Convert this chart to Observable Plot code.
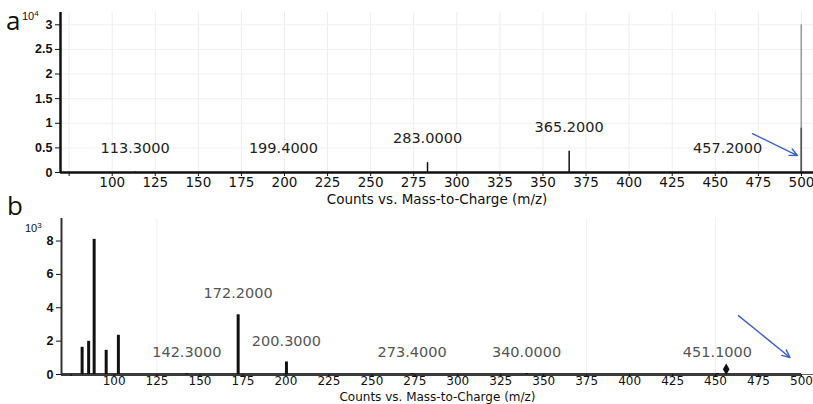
<!DOCTYPE html>
<html>
<head>
<meta charset="utf-8">
<script src="https://cdn.jsdelivr.net/npm/d3@7"></script>
<script src="https://cdn.jsdelivr.net/npm/@observablehq/plot@0.6"></script>
<style>
  body { margin: 0; background: #fff; }
  #wrap { position: relative; width: 813px; height: 404px; overflow: hidden; font-family: "DejaVu Sans", sans-serif; }
  .panel { position: absolute; left: 0; }
  .tag { position: absolute; font-family: "Open Sans", sans-serif; color: #111; line-height: 1; }
  .exp { position: absolute; font-family: "Liberation Sans", sans-serif; font-size: 11px; color: #111; line-height: 1; }
  .exp sup { font-size: 8px; vertical-align: 4px; }
</style>
</head>
<body>
<div id="wrap">
  <div id="pa" class="panel" style="top:0"></div>
  <div id="pb" class="panel" style="top:202px"></div>
  <div class="tag" style="left:6px;top:7px;font-size:26px">a</div>
  <div class="exp" style="left:22px;top:10px">10<sup>4</sup></div>
  <div class="tag" style="left:7px;top:192px;font-size:26px">b</div>
  <div class="exp" style="left:25px;top:222px">10<sup>3</sup></div>
</div>
<script>
// m/z axis ticks shared by both spectra
const xTicks = d3.range(75, 501, 25);

// Spectrum a — counts in units of 10^4
const mzA = [113.3, 199.4, 283.0, 365.2, 457.2];
const countsA = [0.01, 0.01, 0.20, 0.43, 0.01];
const edgeMzA = [499.9];
const edgeProfileA = [3.0];
const edgeCentroidA = [0.9];
const yTicksA = [0, 0.5, 1, 1.5, 2, 2.5, 3];
const arrowA = [[471.6, 0.79, 497.7, 0.345]];

// Spectrum b — counts in units of 10^3
const mzB = [81.4, 85.2, 88.4, 95.4, 102.5, 142.3, 172.2, 200.3, 273.4, 340.0, 451.1];
const countsB = [1.63, 1.99, 8.1, 1.45, 2.35, 0.06, 3.58, 0.75, 0.06, 0.06, 0.06];
const labeledB = [142.3, 172.2, 200.3, 273.4, 340.0, 451.1];
const precursorMzB = [456.2];
const precursorYB = [0.32];
const yTicksB = [0, 2, 4, 6, 8];
const arrowB = [[463.3, 3.53, 493.3, 1.02]];

const fmt = d3.format(".4f");
const axisTitle = "Counts vs. Mass-to-Charge (m/z)";
const blue = "#3d62c6";

const peaksA = mzA.map((mz, i) => ({mz, c: countsA[i]}));
const peaksB = mzB.map((mz, i) => ({mz, c: countsB[i]}));
const labelsB = peaksB.filter(d => labeledB.includes(d.mz));
const precursor = precursorMzB.map((mz, i) => ({mz, c: precursorYB[i]}));

const baseStyle = {fontFamily: "DejaVu Sans, sans-serif", fontSize: "13.5px", color: "#111", background: "transparent", overflow: "visible"};
const yTickStyle = {tickSize: 5, tickPadding: 3, label: null, tickFormat: d => String(d), fontSize: 12.5, fontFamily: "Liberation Sans Narrow, Liberation Sans, sans-serif", fontWeight: "bold"};

const plotA = Plot.plot({
  width: 813, height: 202,
  marginLeft: 60, marginRight: 0, marginTop: 12, marginBottom: 30,
  style: baseStyle,
  x: {domain: [70, 507]},
  y: {domain: [0, 3.25]},
  marks: [
    Plot.gridX(xTicks, {stroke: "#ededed", strokeOpacity: 1}),
    Plot.gridY(yTicksA.slice(1), {stroke: "#f0f0f0", strokeOpacity: 1}),
    Plot.ruleX(peaksA, {x: "mz", y1: 0, y2: "c", stroke: "#111", strokeWidth: 1.5}),
    Plot.ruleX(edgeMzA, {x: d => d, y1: 0, y2: edgeProfileA[0], stroke: "#9a9a9a", strokeWidth: 1.6}),
    Plot.ruleX(edgeMzA, {x: d => d, y1: 0, y2: edgeCentroidA[0], stroke: "#555", strokeWidth: 1.6}),
    Plot.text(peaksA, {x: "mz", y: "c", text: d => fmt(d.mz), dy: -24, fontSize: 14.5, fill: "#222"}),
    Plot.arrow(arrowA, {x1: d => d[0], y1: d => d[1], x2: d => d[2], y2: d => d[3], stroke: blue, strokeWidth: 1.4, headLength: 9, headAngle: 50}),
    Plot.axisX(xTicks, {tickSize: 4, tickPadding: 1, tickFormat: d => d < 100 ? "" : d,
      label: axisTitle, labelAnchor: "center", labelArrow: "none", labelOffset: 31}),
    Plot.axisY(yTicksA, yTickStyle),
    Plot.ruleY([0], {stroke: "#111", strokeWidth: 2.5}),
    Plot.ruleX([70], {y1: 0, y2: 3.25, stroke: "#111", strokeWidth: 2.5})
  ]
});
document.getElementById("pa").append(plotA);

const plotB = Plot.plot({
  width: 813, height: 202,
  marginLeft: 61, marginRight: 0, marginTop: 16, marginBottom: 30,
  style: baseStyle,
  x: {domain: [69.4, 507]},
  y: {domain: [0, 9.35]},
  marks: [
    Plot.gridX([125, 375, 450], {stroke: "#f0f0f0", strokeOpacity: 1}),
    Plot.ruleY([0], {stroke: "#666", strokeWidth: 1}),
    Plot.ruleY([0], {x1: 69.4, x2: 500, stroke: "#3a3a3a", strokeWidth: 3}),
    Plot.ruleX(peaksB, {x: "mz", y1: 0, y2: "c", stroke: "#111", strokeWidth: 3}),
    Plot.text(labelsB, {x: "mz", y: "c", text: d => fmt(d.mz), dy: -21, fontSize: 14.5, fill: "#555"}),
    Plot.dot(precursor, {x: "mz", y: "c", symbol: "diamond", r: 3.5, fill: "#111"}),
    Plot.arrow(arrowB, {x1: d => d[0], y1: d => d[1], x2: d => d[2], y2: d => d[3], stroke: blue, strokeWidth: 1.4, headLength: 9, headAngle: 50}),
    Plot.axisX(xTicks, {tickSize: 2, tickPadding: 0, tickFormat: d => d < 100 ? "" : d, fontSize: 12,
      label: axisTitle, labelAnchor: "center", labelArrow: "none", labelOffset: 26}),
    Plot.axisY(yTicksB, yTickStyle),
    Plot.ruleX([69.4], {y1: 0, y2: 9.35, stroke: "#333", strokeWidth: 2})
  ]
});
document.getElementById("pb").append(plotB);
</script>
</body>
</html>
